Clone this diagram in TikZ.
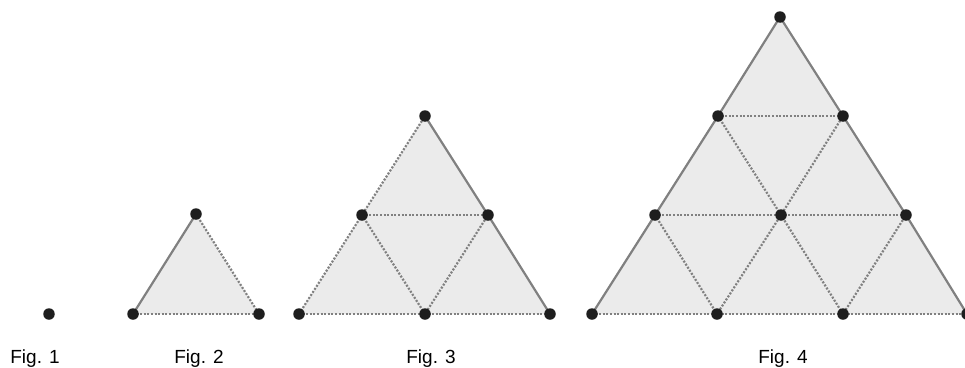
\documentclass[tikz,border=0pt]{standalone}
\usepackage{fontspec}
\setmainfont{Liberation Sans}
\definecolor{edgec}{HTML}{808080}
\definecolor{fillc}{HTML}{EBEBEB}
\definecolor{dotc}{HTML}{1E1E1E}
\tikzset{
  vtx/.style={circle, fill=dotc, inner sep=0pt, minimum size=11.5pt},
  solidedge/.style={draw=edgec, line width=2.2pt},
  dotedge/.style={draw=edgec, line width=2.2pt, dash pattern=on 2pt off 1.6pt},
  tri/.style={fill=fillc},
  lab/.style={font=\fontsize{19}{22}\selectfont, anchor=base, inner sep=0pt}
}
\begin{document}
\begin{tikzpicture}[x=1pt,y=-1pt]
\useasboundingbox (0,0) rectangle (965,367);
% ---------- Fig 1
\node[vtx] (f1) at (49,314) {};
% ---------- Fig 2
\coordinate (b1) at (133,314);
\coordinate (b2) at (259,314);
\coordinate (b3) at (196,214);
\fill[tri] (b1) -- (b2) -- (b3) -- cycle;
\draw[solidedge] (b1) -- (b3);
\draw[dotedge] (b3) -- (b2);
\draw[dotedge] (b1) -- (b2);
\node[vtx] (n2a) at (b1) {};
\node[vtx] (n2b) at (b2) {};
\node[vtx] (n2c) at (b3) {};
% ---------- Fig 3
\coordinate (c1) at (299,314);
\coordinate (c2) at (425,314);
\coordinate (c3) at (550,314);
\coordinate (c4) at (362,215);
\coordinate (c5) at (488,215);
\coordinate (c6) at (425,116);
\fill[tri] (c1) -- (c3) -- (c6) -- cycle;
\draw[dotedge] (c1) -- (c4) -- (c6);
\draw[solidedge] (c6) -- (c5) -- (c3);
\draw[dotedge] (c1) -- (c2) -- (c3);
\draw[dotedge] (c4) -- (c5);
\draw[dotedge] (c4) -- (c2) -- (c5);
\foreach \i in {1,...,6} \node[vtx] (n3\i) at (c\i) {};
% ---------- Fig 4
\coordinate (d1) at (592,314);
\coordinate (d2) at (717,314);
\coordinate (d3) at (843,314);
\coordinate (d4) at (967,314);
\coordinate (d5) at (655,215);
\coordinate (d6) at (781,215);
\coordinate (d7) at (906,215);
\coordinate (d8) at (718,116);
\coordinate (d9) at (843,116);
\coordinate (d10) at (780,17);
\fill[tri] (d1) -- (d4) -- (d10) -- cycle;
\draw[solidedge] (d1) -- (d5) -- (d8) -- (d10) -- (d9) -- (d7) -- (d4);
\draw[dotedge] (d1) -- (d2) -- (d3) -- (d4);
\draw[dotedge] (d5) -- (d6) -- (d7);
\draw[dotedge] (d8) -- (d9);
\draw[dotedge] (d5) -- (d2) -- (d6) -- (d3) -- (d7);
\draw[dotedge] (d8) -- (d6) -- (d9);
\foreach \i in {1,...,10} \node[vtx] (n4\i) at (d\i) {};
% ---------- labels
\node[lab] (l1) at (35,363) {Fig. 1};
\node[lab] (l2) at (199,363) {Fig. 2};
\node[lab] (l3) at (431,363) {Fig. 3};
\node[lab] (l4) at (783,363) {Fig. 4};
\end{tikzpicture}
\end{document}
